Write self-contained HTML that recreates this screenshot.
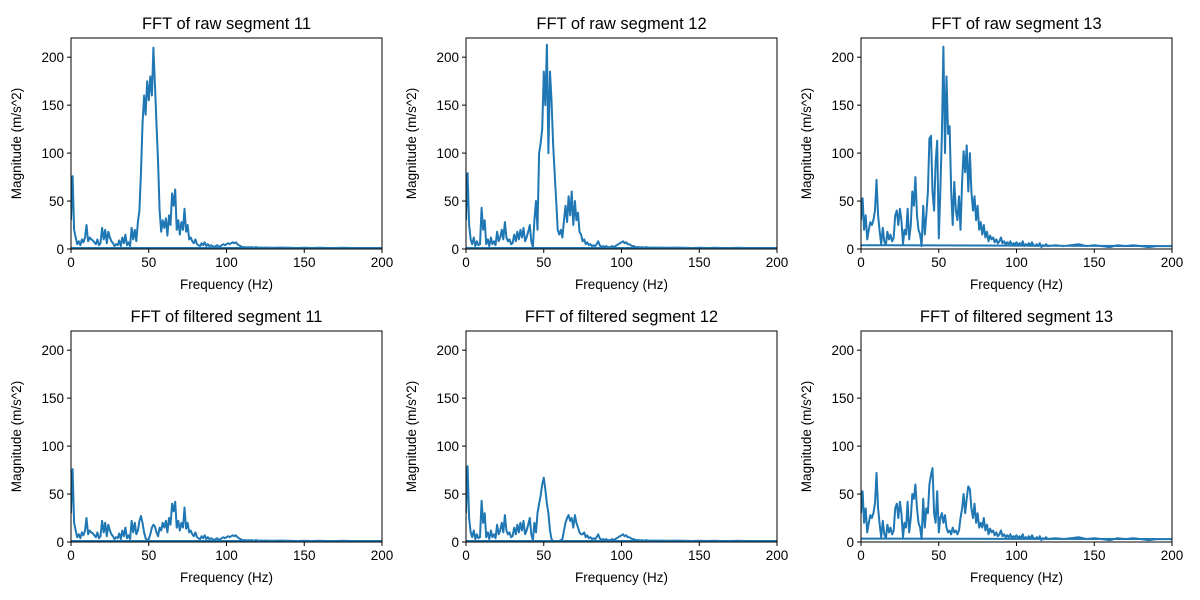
<!DOCTYPE html>
<html><head><meta charset="utf-8"><style>
body{margin:0;background:#fff;}
svg{display:block;font-family:"Liberation Sans","DejaVu Sans",sans-serif;}
</style></head><body>
<svg id="fig" width="1200" height="600" viewBox="0 0 1200 600"></svg>
<script>
const xTicks=[0,50,100,150,200];
const yTicks=[0,50,100,150,200];
const titles=["FFT of raw segment 11","FFT of raw segment 12","FFT of raw segment 13","FFT of filtered segment 11","FFT of filtered segment 12","FFT of filtered segment 13"];
const tailCommon=[1.5,1.2,1.5,1.2,1,1.2,1,1.2,1,1,1.2,1,1,1,1,1];
const raw11=[30,76,20,12,5,8,4,10,7,12,25,8,12,10,9,7,5,10,4,6,22,10,20,6,18,12,8,6,3,5,4,9,3,12,6,15,4,7,3,22,10,20,8,28,40,80,130,160,140,175,155,180,160,210,170,130,90,40,18,30,22,32,14,35,25,58,45,62,20,30,15,28,20,42,18,25,10,12,8,6,10,5,4,3,6,4,7,3,5,3,4,3,2,3,4,2,3,4,5,4,5,6,5,6,7,6,7,5,4,3,2,2,2,1.5,2,1.5,2,1.5,1.5,2,1.5].concat(tailCommon);
const raw12=[30,79,25,10,5,12,3,8,4,5,43,20,30,5,10,3,12,5,8,4,18,8,12,20,10,28,12,8,10,5,6,15,8,18,10,20,12,22,8,12,18,25,8,2,30,50,20,100,110,125,185,150,213,100,185,155,110,80,50,20,15,20,12,30,45,28,55,35,60,25,50,30,38,18,15,8,10,5,7,4,5,3,4,3,5,8,4,2,3,2,3,2,2,2,3,2,3,4,5,6,7,8,6,7,5,5,4,3,3,2,2,2,1.5,2,1.5,1.5,2,1.5,1.5,1.5,1.5].concat(tailCommon);
const raw13=[30,53,20,35,10,20,28,25,30,40,72,35,18,5,22,8,4,18,10,15,8,12,35,40,25,42,30,5,20,15,42,10,25,60,45,75,35,20,15,3,45,15,35,60,115,118,60,40,90,113,11,60,120,211,100,180,120,128,60,25,70,40,30,55,20,70,102,80,108,60,100,60,40,55,30,45,20,28,15,25,12,18,8,14,10,12,7,10,6,8,12,6,8,5,7,5,8,4,6,5,7,4,6,4,8,3,5,4,6,3,7,4,3,5,3,6,2,4,3,5,3,4,3,4,5,3,4,3,2,4,3,4,3,2,3,3,3];
const filt11=[30,76,20,12,5,8,4,10,7,12,25,8,12,10,9,7,5,10,4,6,22,10,20,6,18,12,8,6,3,5,4,9,3,12,6,15,4,7,3,22,10,20,8,12,22,27,20,10,4,2,3,8,15,18,16,10,6,15,12,20,15,22,10,25,18,40,32,42,15,22,12,20,15,36,14,20,10,12,8,6,10,5,4,3,6,4,7,3,5,3,4,3,2,3,4,2,3,4,5,4,5,6,5,6,7,6,7,5,4,3,2,2,2,1.5,2,1.5,2,1.5,1.5,2,1.5].concat(tailCommon);
const filt12=[30,79,25,10,5,12,3,8,4,5,43,20,30,5,10,3,12,5,8,4,18,8,12,20,10,28,12,8,10,5,6,15,8,18,10,20,12,22,8,12,18,25,8,2,20,10,30,40,48,60,67,55,40,30,12,3,1,1,1,1,1,2,3,12,20,25,28,22,25,15,28,20,15,10,8,8,10,5,7,4,5,3,4,3,5,8,4,2,3,2,3,2,2,2,3,2,3,4,5,6,7,8,6,7,5,5,4,3,3,2,2,2,1.5,2,1.5,1.5,2,1.5,1.5,1.5,1.5].concat(tailCommon);
const filt13=[30,53,20,35,10,20,28,25,30,40,72,35,18,5,22,8,4,18,10,15,8,12,35,40,25,42,30,5,20,15,42,10,25,50,45,60,35,20,15,3,45,15,35,30,60,70,77,30,20,53,10,25,30,20,28,15,10,12,8,15,10,12,8,12,25,35,50,30,45,58,55,35,25,40,20,30,15,20,15,25,12,18,8,14,10,12,7,10,6,8,12,6,8,5,7,5,8,4,6,5,7,4,6,4,8,3,5,4,6,3,7,4,3,5,3,6,2,4,3,5,3,4,3,4,5,3,4,3,2,4,3,4,3,2,3,3,3];
const wrapBase=[1,1,4,1,1,3.5];
const series=[raw11,raw12,raw13,filt11,filt12,filt13];

const NS="http://www.w3.org/2000/svg";
const fig=document.getElementById('fig');
function mk(tag,attrs,parent){const e=document.createElementNS(NS,tag);for(const k in attrs)e.setAttribute(k,attrs[k]);(parent||fig).appendChild(e);return e;}
function freqOf(i){return i<=120?i:120+5*(i-120);}
const lefts=[71,466,861], tops=[38,331], W=311, H=211;
for(let p=0;p<6;p++){
  const L=lefts[p%3], T=tops[Math.floor(p/3)];
  const g=mk('g',{});
  
  
  const xs=v=>L+v/200*W, ys=v=>T+H-v/220*H;
  const cp=mk('clipPath',{id:'c'+p},g); mk('rect',{x:L,y:T,width:W,height:H},cp);
  const d=series[p];
  let pts=d.map((v,i)=>xs(freqOf(i)).toFixed(1)+','+ys(v).toFixed(1));
  pts.push(xs(0)+','+ys(wrapBase[p]).toFixed(1));
  const line=mk('polyline',{points:pts.join(' '),fill:'none',stroke:'#1f77b4','stroke-width':2,'stroke-linejoin':'round','clip-path':'url(#c'+p+')'},g);
  
  
  const fr=mk('rect',{x:L,y:T,width:W,height:H,fill:'none',stroke:'#000','stroke-width':1},g);
  
  
  xTicks.forEach(t=>{const x=xs(t);mk('line',{x1:x,x2:x,y1:T+H,y2:T+H+4,stroke:'#000'},g);
    const tx=mk('text',{x:x,y:T+H+18,'text-anchor':'middle','font-size':13.5},g);tx.textContent=t;
    
    });
  yTicks.forEach(t=>{const y=ys(t);mk('line',{x1:L-4,x2:L,y1:y,y2:y,stroke:'#000'},g);
    const tx=mk('text',{x:L-7,y:y+5,'text-anchor':'end','font-size':13.5},g);tx.textContent=t;
    
    });
  const tt=mk('text',{x:L+W/2,y:T-9,'text-anchor':'middle','font-size':16.5},g);tt.textContent=titles[p];
  
  
  const xl=mk('text',{x:L+W/2,y:T+H+40,'text-anchor':'middle','font-size':13.5},g);xl.textContent='Frequency (Hz)';
  
  
  const yl=mk('text',{x:0,y:0,'text-anchor':'middle','font-size':13.5,transform:'translate('+(L-50)+','+(T+H/2)+') rotate(-90)'},g);yl.textContent='Magnitude (m/s^2)';
  
  
}
</script>
</body></html>
